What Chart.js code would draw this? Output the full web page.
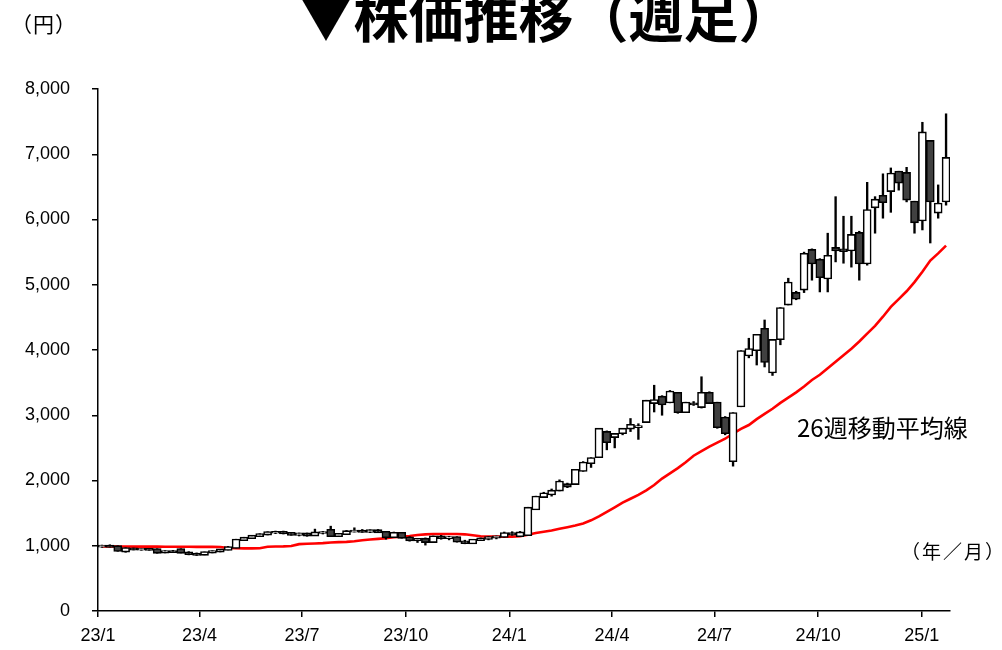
<!DOCTYPE html>
<html>
<head>
<meta charset="utf-8">
<script src="https://cdn.jsdelivr.net/npm/chart.js@4.4.1/dist/chart.umd.min.js"></script>
<style>
body { margin: 0; background: #fff; }
#wrap { width: 1002px; height: 650px; }
</style>
</head>
<body>
<div id="wrap"><canvas id="myChart" width="1002" height="650"></canvas></div>
<script>
// weekly candles, 2023/1 .. 2025/2  (index = week number)
var opens  = [990,1000,990,915,955,945,950,945,900,915,945,895,875,865,900,915,940,970,1090,1120,
              1150,1175,1205,1210,1195,1170,1185,1160,1200,1240,1150,1180,1220,1230,1215,1235,1210,1135,1195,1125,
              1085,1105,1060,1140,1120,1130,1065,1040,1090,1110,1130,1140,1190,1150,1165,1560,1750,1790,1850,1940,
              1950,2150,2270,2360,2740,2670,2730,2800,2820,2900,3190,3280,3200,3340,3050,3180,3130,3340,3190,2960,
              2300,3140,3920,4000,4320,3660,4170,4700,4870,4930,5530,5380,5100,5560,5540,5530,5790,5330,6190,6360,
              6440,6730,6710,6270,5990,7200,6110,6280];
var highs  = [1010,1015,1000,970,965,960,960,955,925,930,955,910,890,905,925,945,990,1100,1130,1160,
              1185,1215,1225,1225,1205,1195,1195,1255,1220,1300,1190,1235,1275,1250,1245,1250,1220,1210,1205,1140,
              1110,1120,1150,1160,1145,1140,1085,1095,1120,1140,1150,1210,1215,1220,1590,1760,1820,1870,2010,1960,
              2170,2290,2350,2800,2760,2720,2800,2950,2870,3230,3460,3300,3380,3350,3200,3210,3590,3360,3200,2980,
              3040,3990,4180,4240,4460,4160,4650,5100,4900,5500,5550,5400,5790,6350,6050,6050,5820,6570,6350,6700,
              6790,6740,6800,6280,7490,7210,6530,7620];
var lows   = [975,980,915,900,935,930,930,885,890,895,890,860,850,860,890,905,935,965,1080,1110,
              1140,1165,1185,1180,1160,1150,1145,1155,1180,1140,1140,1175,1210,1205,1200,1200,1100,1125,1115,1070,
              1050,1010,1055,1100,1090,1055,1030,1035,1080,1090,1105,1130,1160,1140,1160,1555,1740,1760,1840,1890,
              1940,2140,2200,2350,2470,2500,2700,2750,2630,2890,3050,3000,3190,3030,3040,3150,3110,3180,2800,2700,
              2220,3130,3880,3770,3740,3610,4080,4690,4770,4880,5070,4890,4890,5350,5330,5270,5070,5300,5790,6020,
              6110,6450,6270,5790,5840,5640,6020,6220];
var closes = [1000,985,925,960,945,950,940,895,915,905,895,875,865,900,915,940,975,1090,1120,1150,
              1175,1205,1210,1195,1170,1185,1160,1200,1205,1150,1180,1220,1230,1215,1235,1210,1135,1195,1125,1085,
              1100,1060,1140,1120,1130,1065,1045,1090,1110,1130,1140,1190,1175,1200,1580,1750,1800,1840,1980,1910,
              2160,2270,2340,2790,2590,2710,2790,2850,2830,3220,3230,3170,3360,3050,3190,3170,3340,3190,2820,2730,
              3030,3980,4010,4230,3820,4150,4640,5030,4790,5470,5330,5120,5440,5530,5520,5760,5330,6140,6300,6270,
              6700,6570,6310,5960,7330,6280,6240,6940];
// 26-week moving average
var ma26   = [990,990,988,988,987,987,986,986,985,985,984,984,983,983,982,980,965,962,960,960,
              962,985,988,990,995,1025,1030,1035,1040,1050,1055,1060,1070,1085,1095,1105,1115,1130,1140,1150,
              1165,1175,1180,1180,1180,1180,1175,1160,1145,1140,1140,1140,1140,1145,1170,1195,1215,1235,1260,1285,
              1310,1340,1390,1450,1520,1590,1660,1720,1780,1850,1930,2030,2110,2190,2280,2380,2450,2520,2580,2640,
              2720,2790,2850,2940,3020,3100,3190,3270,3350,3440,3540,3620,3720,3820,3920,4020,4130,4250,4370,4510,
              4660,4780,4900,5040,5200,5370,5480,5600];

var tickWeeks  = [0, 12.857, 25.857, 39, 52.143, 65.143, 78.143, 91.286, 104.43];
var tickLabels = ['23/1','23/4','23/7','23/10','24/1','24/4','24/7','24/10','25/1'];

// body outline sits on the edge of the box (half outside), like the source chart
var edge = 12;

var bodies = [], wicks = [], maLine = [], fills = [];
for (var i = 0; i < opens.length; i++) {
  var o = opens[i], c = closes[i];
  bodies.push({x: i + 0.5, y: [Math.min(o, c) - edge, Math.max(o, c) + edge]});
  wicks.push({x: i + 0.5, y: [lows[i], highs[i]]});
  maLine.push({x: i + 0.5, y: ma26[i]});
  fills.push(c >= o ? '#ffffff' : '#404040');
}

var tickFont = {family: "'Liberation Sans', Arial, sans-serif", size: 18};

var textPlugin = {
  id: 'texts',
  afterDraw: function(chart) {
    var ctx = chart.ctx;
    ctx.save();
    ctx.fillStyle = '#000';
    ctx.textBaseline = 'alphabetic';
    ctx.textAlign = 'center';
    ctx.font = "bold 55px 'Noto Sans CJK JP'";
    ctx.fillText('▼株価推移（週足）', 546, 37);
    ctx.textBaseline = 'middle';
    ctx.textAlign = 'left';
    ctx.font = "21px 'Noto Sans CJK JP'";
    ctx.letterSpacing = '1px';
    ctx.fillText('（円）', 11, 24);
    ctx.font = "19px 'Noto Sans CJK JP'";
    ctx.letterSpacing = '2px';
    ctx.fillText('（年／月）', 901, 552);
    ctx.letterSpacing = '0px';
    ctx.font = "24px 'Noto Sans CJK JP'";
    ctx.fillText('26週移動平均線', 797, 428);
    ctx.restore();
  }
};

var ctx = document.getElementById('myChart').getContext('2d');
var myChart = new Chart(ctx, {
  type: 'bar',
  data: {
    datasets: [
      {
        label: 'body',
        data: bodies,
        backgroundColor: fills,
        borderColor: '#000',
        borderWidth: 1.6,
        borderSkipped: false,
        barThickness: 8,
        grouped: false,
        order: 1
      },
      {
        label: 'wick',
        data: wicks,
        backgroundColor: '#000',
        borderWidth: 0,
        barThickness: 1.7,
        grouped: false,
        order: 2
      },
      {
        type: 'line',
        label: '26週移動平均線',
        data: maLine,
        borderColor: '#ff0000',
        borderWidth: 2.6,
        pointRadius: 0,
        tension: 0,
        order: 3
      }
    ]
  },
  plugins: [textPlugin],
  options: {
    responsive: false,
    animation: false,
    layout: { padding: { top: 89, right: 52, bottom: 0, left: 0 } },
    plugins: { legend: { display: false }, tooltip: { enabled: false }, title: { display: false } },
    scales: {
      x: {
        type: 'linear',
        min: 0,
        max: 108,
        offset: false,
        afterFit: function(scale) { scale.height = 39; },
        afterBuildTicks: function(scale) {
          scale.ticks = tickWeeks.map(function(v) { return {value: v}; });
        },
        ticks: {
          color: '#000',
          font: tickFont,
          padding: 8,
          maxRotation: 0,
          autoSkip: false,
          callback: function(value, index) { return tickLabels[index]; }
        },
        grid: { offset: false, drawOnChartArea: false, drawTicks: true, tickLength: 6, color: '#000', lineWidth: 1.5 },
        border: { color: '#000', width: 1.5 }
      },
      y: {
        min: 0,
        max: 8000,
        afterFit: function(scale) { scale.width = 98; },
        ticks: {
          stepSize: 1000,
          color: '#000',
          font: tickFont,
          padding: 22,
          callback: function(v) { return v.toLocaleString('en-US'); }
        },
        grid: { drawOnChartArea: false, drawTicks: true, tickLength: 6, color: '#000', lineWidth: 1.5 },
        border: { color: '#000', width: 1.5 }
      }
    }
  }
});
</script>
</body>
</html>
